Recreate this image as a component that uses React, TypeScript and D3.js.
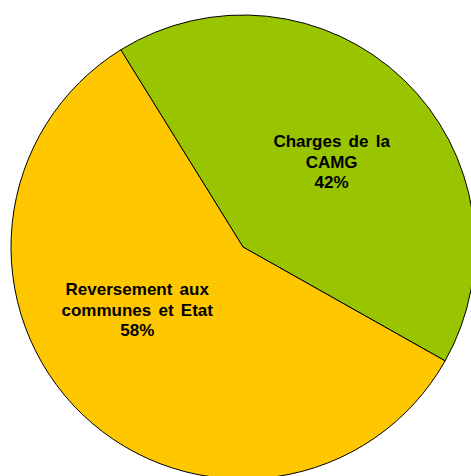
import React from "react";
import * as d3 from "d3";

const categories = ["Charges de la CAMG", "Reversement aux communes et Etat"];
const labelLines = [["Charges de la", "CAMG"], ["Reversement aux", "communes et Etat"]];
const values = [42, 58];
const colors = ["#99C400", "#FFC700"];

const W = 471;
const H = 476;
const cx = 243;
const cy = 247;
const R = 232;
const startDeg = -31.8;
const labelRadius = 123;
const labelAngleShiftDeg = [2.3, 15.5];
const fontSize = 17;
const lineH = 20.5;

export default function App() {
  const start = (startDeg * Math.PI) / 180;
  const pie = d3
    .pie<number>()
    .sort(null)
    .startAngle(start)
    .endAngle(start + 2 * Math.PI);
  const arcs = pie(values);
  const arc = d3.arc<d3.PieArcDatum<number>>().innerRadius(0).outerRadius(R);
  const total = d3.sum(values);

  return (
    <svg
      width={W}
      height={H}
      style={{ position: "absolute", left: 0, top: 0, display: "block" }}
    >
      <rect width={W} height={H} fill="#ffffff" />
      <g transform={`translate(${cx},${cy})`}>
        {arcs.map((a, i) => (
          <path
            key={categories[i]}
            d={arc(a) || ""}
            fill={colors[i]}
            stroke="#000"
            strokeWidth={1}
            strokeLinejoin="round"
          />
        ))}
        {arcs.map((a, i) => {
          const mid = (a.startAngle + a.endAngle) / 2 + (labelAngleShiftDeg[i] * Math.PI) / 180;
          const x = labelRadius * Math.sin(mid);
          const y = -labelRadius * Math.cos(mid);
          const lines = [...labelLines[i], `${Math.round((values[i] / total) * 100)}%`];
          const n = lines.length;
          return (
            <text
              key={"l" + i}
              x={x}
              y={y}
              textAnchor="middle"
              fontFamily="'Liberation Sans', Arial, sans-serif"
              fontWeight="bold"
              fontSize={fontSize}
              wordSpacing={2.5}
              fill="#000"
            >
              {lines.map((ln, j) => (
                <tspan
                  key={j}
                  x={x}
                  y={y + (j - (n - 1) / 2) * lineH + fontSize * 0.36}
                >
                  {ln}
                </tspan>
              ))}
            </text>
          );
        })}
      </g>
    </svg>
  );
}
